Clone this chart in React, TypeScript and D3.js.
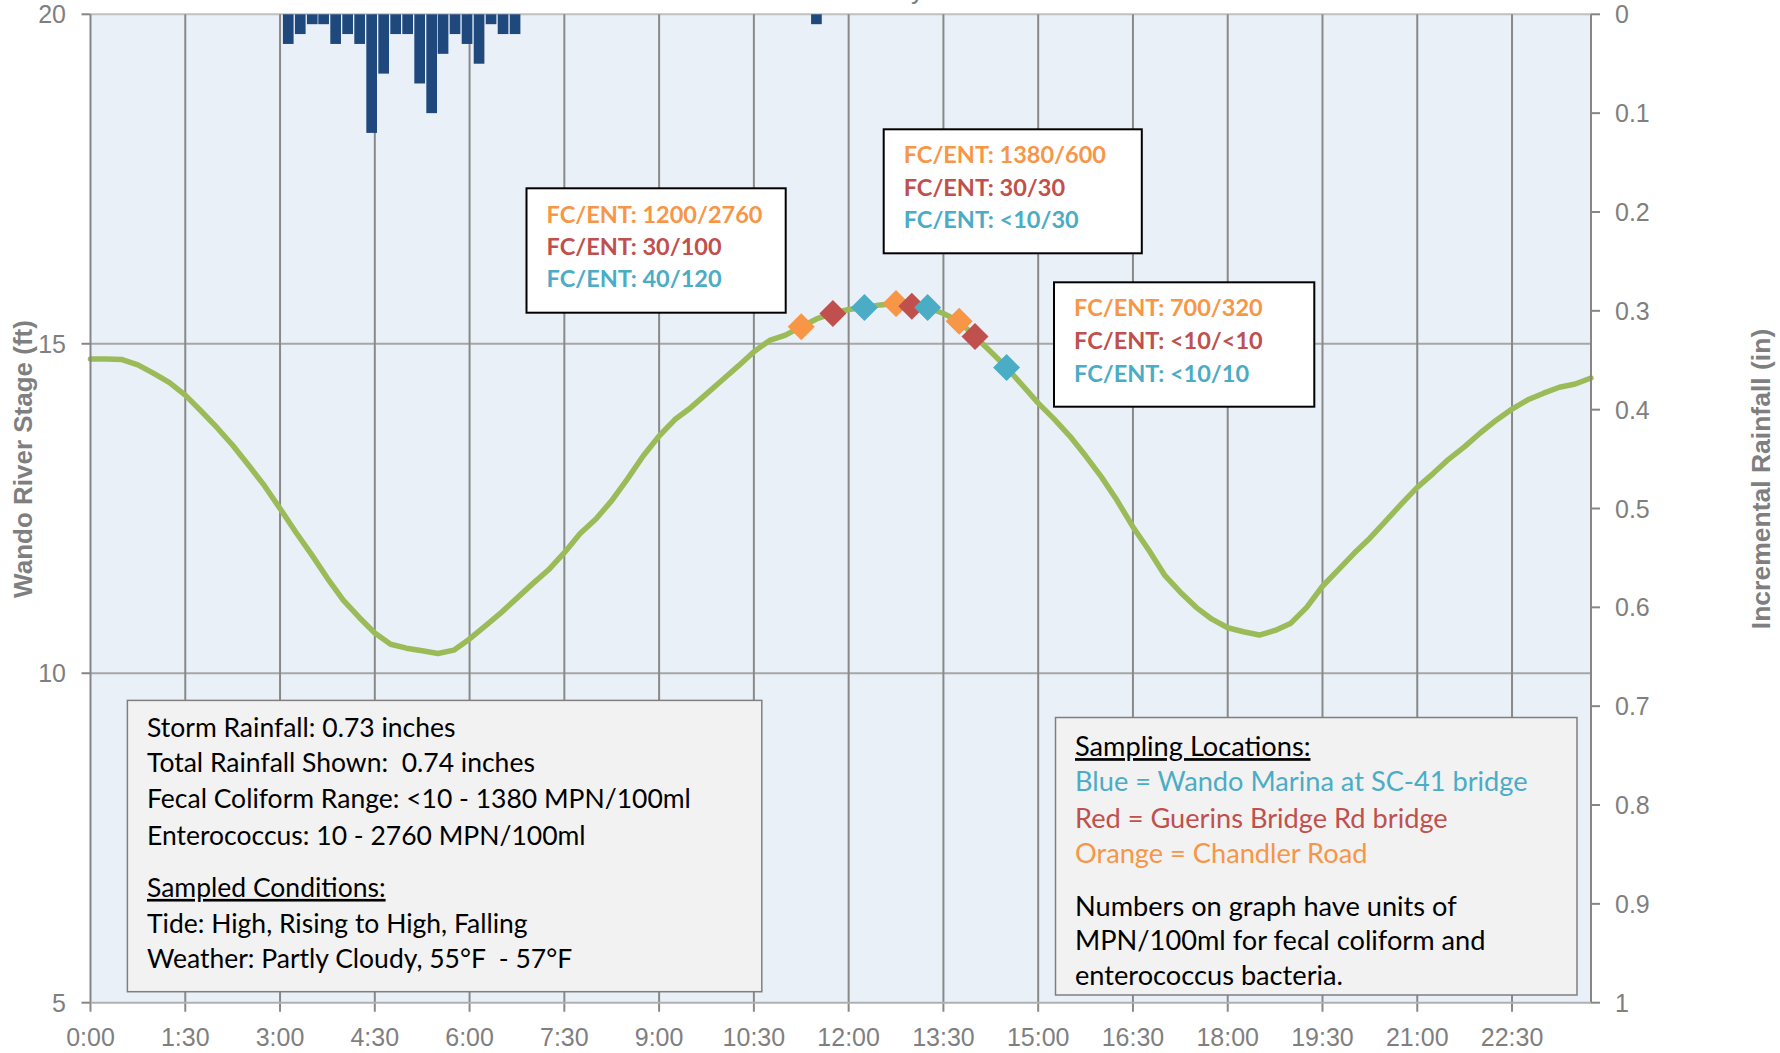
import React from "react";
import * as d3 from "d3";

// ---------- data ----------
const tideStepHours = 0.25; // readings every 15 minutes starting 0:00
const tideStage = [
  14.77, 14.77, 14.76, 14.68, 14.55, 14.41, 14.22, 13.98, 13.73, 13.46, 13.16, 12.85,
  12.5, 12.14, 11.8, 11.44, 11.11, 10.85, 10.61, 10.44, 10.38, 10.34, 10.3, 10.35,
  10.52, 10.72, 10.92, 11.14, 11.36, 11.57, 11.83, 12.12, 12.34, 12.62, 12.95, 13.3,
  13.6, 13.85, 14.03, 14.24, 14.45, 14.66, 14.88, 15.05, 15.13, 15.26, 15.38, 15.46,
  15.52, 15.55, 15.59, 15.61, 15.57, 15.55, 15.46, 15.34, 15.11, 14.88, 14.64, 14.37,
  14.1, 13.86, 13.6, 13.3, 12.98, 12.62, 12.22, 11.87, 11.49, 11.23, 11.0, 10.82,
  10.69, 10.63, 10.58, 10.65, 10.76, 11.0, 11.32, 11.57, 11.82, 12.05, 12.31, 12.57,
  12.82, 13.03, 13.25, 13.44, 13.65, 13.84, 14.01, 14.15, 14.25, 14.34, 14.39, 14.48,
];

const rainHours = [
  3.13, 3.32, 3.51, 3.69, 3.88, 4.07, 4.26, 4.45, 4.64, 4.83, 5.02, 5.21, 5.4, 5.58,
  5.77, 5.96, 6.15, 6.34, 6.53, 6.72, 11.49,
];
const rainInches = [
  0.03, 0.02, 0.01, 0.01, 0.03, 0.02, 0.03, 0.12, 0.06, 0.02, 0.02, 0.07, 0.1, 0.04,
  0.02, 0.03, 0.05, 0.01, 0.02, 0.02, 0.01,
];

const sampleHours = [11.25, 11.75, 12.25, 12.75, 13.0, 13.25, 13.75, 14.0, 14.5];
const sampleSites = ["orange", "red", "blue", "orange", "red", "blue", "orange", "red", "blue"];
const sampleStage = [15.26, 15.46, 15.55, 15.61, 15.57, 15.55, 15.34, 15.11, 14.64];

const xTickHours = [0, 1.5, 3, 4.5, 6, 7.5, 9, 10.5, 12, 13.5, 15, 16.5, 18, 19.5, 21, 22.5];
const xTickLabels = [
  "0:00", "1:30", "3:00", "4:30", "6:00", "7:30", "9:00", "10:30", "12:00", "13:30",
  "15:00", "16:30", "18:00", "19:30", "21:00", "22:30",
];
const stageTicks = [5, 10, 15, 20];
const rainTicks = [0, 0.1, 0.2, 0.3, 0.4, 0.5, 0.6, 0.7, 0.8, 0.9, 1];
const rainTickLabels = ["0", "0.1", "0.2", "0.3", "0.4", "0.5", "0.6", "0.7", "0.8", "0.9", "1"];

const callout1 = ["FC/ENT: 1200/2760", "FC/ENT: 30/100", "FC/ENT: 40/120"];
const callout2 = ["FC/ENT: 1380/600", "FC/ENT: 30/30", "FC/ENT: <10/30"];
const callout3 = ["FC/ENT: 700/320", "FC/ENT: <10/<10", "FC/ENT: <10/10"];
const calloutSites = ["orange", "red", "blue"];

const summaryLines = [
  "Storm Rainfall: 0.73 inches",
  "Total Rainfall Shown:  0.74 inches",
  "Fecal Coliform Range: <10 - 1380 MPN/100ml",
  "Enterococcus: 10 - 2760 MPN/100ml",
  "Sampled Conditions:",
  "Tide: High, Rising to High, Falling",
  "Weather: Partly Cloudy, 55°F  - 57°F",
];
const legendLines = [
  "Sampling Locations:",
  "Blue = Wando Marina at SC-41 bridge",
  "Red = Guerins Bridge Rd bridge",
  "Orange = Chandler Road",
  "Numbers on graph have units of",
  "MPN/100ml for fecal coliform and",
  "enterococcus bacteria.",
];
const legendColors = ["#000", "blue", "red", "orange", "#000", "#000", "#000"];

// ---------- styling ----------
const COLORS: Record<string, string> = {
  orange: "#F79646",
  red: "#C0504D",
  blue: "#4BACC6",
};
const W = 1780;
const H = 1053;
const P = { left: 90.5, right: 1591, top: 14.3, bottom: 1002.7 };
const AXIS_FONT = "'Liberation Sans', Arial, sans-serif";
const BOX_FONT = "Lato, 'Open Sans', sans-serif";
const GRAY = "#7F7F7F";

const x = d3.scaleLinear().domain([0, 23.75]).range([P.left, P.right]);
const y = d3.scaleLinear().domain([5, 20]).range([P.bottom, P.top]);
const yr = d3.scaleLinear().domain([0, 1]).range([P.top, P.bottom]);

const tidePts = tideStage.map((v, i) => [i * tideStepHours, v] as [number, number]);
const tideLine = d3
  .line<[number, number]>()
  .x((d) => x(d[0]))
  .y((d) => y(d[1]));

const diamond = (cx: number, cy: number, r: number) =>
  `M${cx},${cy - r}L${cx + r},${cy}L${cx},${cy + r}L${cx - r},${cy}Z`;

const BAR_HOURS = 0.169;

function Callout({ x0, y0, w, h, lines, base, fs, gap }: any) {
  return (
    <g>
      <rect x={x0} y={y0} width={w} height={h} fill="#fff" stroke="#000" strokeWidth={2} />
      {lines.map((t: string, i: number) => (
        <text
          key={i}
          x={x0 + 20}
          y={base + i * gap}
          fill={COLORS[calloutSites[i]]}
          fontFamily={BOX_FONT}
          fontWeight={700}
          fontSize={fs}
        >
          {t}
        </text>
      ))}
    </g>
  );
}

export default function App() {
  return (
    <svg
      width={W}
      height={H}
      style={{ position: "absolute", left: 0, top: 0, background: "#fff" }}
    >
      {/* clipped title fragment */}
      <text x={911} y={-1} fontFamily={AXIS_FONT} fontSize={26} fill={GRAY}>
        y
      </text>

      {/* plot background */}
      <rect x={P.left} y={P.top} width={P.right - P.left} height={P.bottom - P.top} fill="#EAF0F8" />

      {/* horizontal gridlines */}
      {stageTicks
        .filter((v) => v !== 5)
        .map((v) => (
          <line
            key={"hg" + v}
            x1={P.left}
            x2={P.right}
            y1={y(v)}
            y2={y(v)}
            stroke={v === 20 ? "#C0C0C0" : "#A6A6A6"}
            strokeWidth={2}
          />
        ))}

      {/* vertical gridlines + bottom ticks */}
      {xTickHours.map((h) => (
        <line
          key={"vg" + h}
          x1={x(h)}
          x2={x(h)}
          y1={h === 0 ? P.bottom : P.top}
          y2={P.bottom + 9}
          stroke="#898989"
          strokeWidth={2}
        />
      ))}

      {/* rainfall bars hanging from top */}
      {rainHours.map((h, i) => (
        <rect
          key={"r" + i}
          x={x(h - BAR_HOURS / 2)}
          y={yr(0)}
          width={x(BAR_HOURS) - x(0)}
          height={yr(rainInches[i]) - yr(0)}
          fill="#1F497D"
        />
      ))}

      {/* tide line */}
      <path
        d={tideLine(tidePts) || ""}
        fill="none"
        stroke="#9BBB59"
        strokeWidth={5.5}
        strokeLinejoin="round"
        strokeLinecap="round"
      />

      {/* sample diamonds */}
      {sampleHours.map((h, i) => (
        <path key={"s" + i} d={diamond(x(h), y(sampleStage[i]), 13.5)} fill={COLORS[sampleSites[i]]} />
      ))}

      {/* axes */}
      <line x1={P.left} x2={P.left} y1={P.top} y2={P.bottom} stroke="#868686" strokeWidth={2} />
      <line x1={P.right} x2={P.right} y1={P.top} y2={P.bottom} stroke="#868686" strokeWidth={2} />
      <line x1={P.left} x2={P.right} y1={P.bottom} y2={P.bottom} stroke="#B0B0B0" strokeWidth={2} />

      {stageTicks.map((v) => (
        <g key={"lt" + v}>
          <line x1={P.left - 9} x2={P.left} y1={y(v)} y2={y(v)} stroke="#868686" strokeWidth={2} />
          <text
            x={66}
            y={y(v) + 9}
            textAnchor="end"
            fontFamily={AXIS_FONT}
            fontSize={25}
            fill={GRAY}
          >
            {v}
          </text>
        </g>
      ))}

      {rainTicks.map((v, i) => (
        <g key={"rt" + v}>
          <line x1={P.right} x2={P.right + 9} y1={yr(v)} y2={yr(v)} stroke="#868686" strokeWidth={2} />
          <text x={1615} y={yr(v) + 9} fontFamily={AXIS_FONT} fontSize={25} fill={GRAY}>
            {rainTickLabels[i]}
          </text>
        </g>
      ))}

      {xTickHours.map((h, i) => (
        <text
          key={"xt" + h}
          x={x(h)}
          y={1046}
          textAnchor="middle"
          fontFamily={AXIS_FONT}
          fontSize={25}
          fill={GRAY}
        >
          {xTickLabels[i]}
        </text>
      ))}

      {/* axis titles */}
      <text
        transform="translate(32,459) rotate(-90)"
        textAnchor="middle"
        fontFamily={AXIS_FONT}
        fontWeight={700}
        fontSize={26}
        fill={GRAY}
      >
        Wando River Stage (ft)
      </text>
      <text
        transform="translate(1770,479) rotate(-90)"
        textAnchor="middle"
        fontFamily={AXIS_FONT}
        fontWeight={700}
        fontSize={26.5}
        fill={GRAY}
      >
        Incremental Rainfall (in)
      </text>

      {/* callouts */}
      <Callout x0={526.5} y0={188.3} w={259.2} h={124.4} lines={callout1} base={222.7} fs={23.5} gap={32.3} />
      <Callout x0={883.7} y0={129.3} w={258.1} h={124} lines={callout2} base={163.3} fs={23.5} gap={32.5} />
      <Callout x0={1054} y0={282.3} w={260.3} h={124.4} lines={callout3} base={316} fs={23.5} gap={32.8} />

      {/* summary box */}
      <rect x={127.4} y={700.4} width={634.4} height={291.3} fill="#F2F2F2" stroke="#7F7F7F" strokeWidth={1.5} />
      {summaryLines.map((t, i) => {
        const base = [736.8, 772, 808.3, 844.6, 896.9, 933.2, 968.4][i];
        return (
          <text
            key={"sm" + i}
            x={147}
            y={base}
            fontFamily={BOX_FONT}
            fontSize={26.5}
            fill="#000"
            style={{ whiteSpace: "pre", textDecoration: i === 4 ? "underline" : "none" }}
          >
            {t}
          </text>
        );
      })}

      {/* legend box */}
      <rect x={1055.5} y={717.5} width={521.5} height={277.5} fill="#F2F2F2" stroke="#7F7F7F" strokeWidth={1.5} />
      {legendLines.map((t, i) => {
        const base = [756.1, 791.3, 827.6, 862.8, 916.2, 950.2, 985.4][i];
        const c = legendColors[i];
        return (
          <text
            key={"lg" + i}
            x={1075}
            y={base}
            fontFamily={BOX_FONT}
            fontSize={27.2}
            fill={COLORS[c] || c}
            style={{ whiteSpace: "pre", textDecoration: i === 0 ? "underline" : "none" }}
          >
            {t}
          </text>
        );
      })}
    </svg>
  );
}
